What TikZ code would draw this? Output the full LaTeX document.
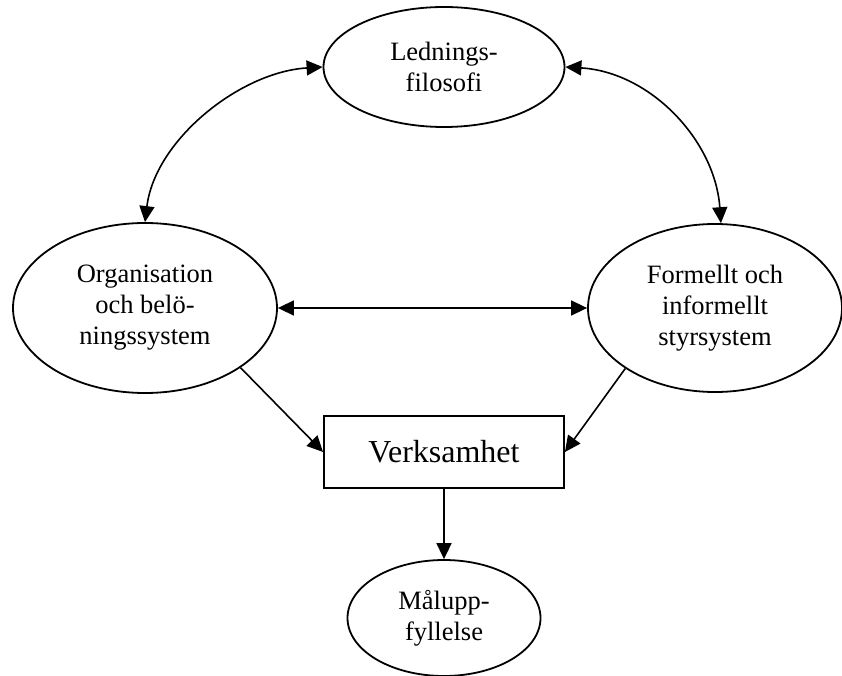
\documentclass[tikz,border=0pt]{standalone}
\usepackage{fontspec}
\setmainfont{Liberation Serif}
\usetikzlibrary{shapes.geometric,arrows.meta}
\begin{document}
\begin{tikzpicture}[x=1pt,y=-1pt,
  every node/.style={font=\fontsize{26.5}{31}\selectfont, align=center, inner sep=0pt},
  oval/.style={ellipse, draw, line width=1.8pt},
  box/.style={rectangle, draw, line width=1.8pt, font=\fontsize{32}{36}\selectfont},
  conn/.style={line width=1.6pt, -{Triangle[length=16pt,width=15pt]}},
  dconn/.style={line width=1.6pt, {Triangle[length=16pt,width=15pt]}-{Triangle[length=16pt,width=15pt]}}]
\useasboundingbox (0,0) rectangle (842,676);
\node[oval, minimum width=241pt, minimum height=120pt] (T) at (444,67) {Lednings-\\filosofi};
\node[oval, minimum width=264pt, minimum height=170pt] (L) at (145,308) {Organisation\\och belö-\\ningssystem};
\node[oval, minimum width=254pt, minimum height=168pt] (R) at (715,308) {Formellt och\\informellt\\styrsystem};
\node[box, minimum width=240pt, minimum height=72pt] (V) at (444,452) {Verksamhet};
\node[oval, minimum width=193pt, minimum height=116pt] (M) at (444,618) {Målupp-\\fyllelse};
\draw[dconn] (L.north) .. controls (155,140) and (240,72) .. (T.west);
\draw[dconn] (T.east) .. controls (650,72) and (715,140) .. (R.86);
\draw[dconn] (L.east) -- (R.west);
\draw[conn] (L.-32) -- (V.west);
\draw[conn] (R.-146) -- (V.east);
\draw[conn] (V.south) -- (M.north);
\end{tikzpicture}
\end{document}
